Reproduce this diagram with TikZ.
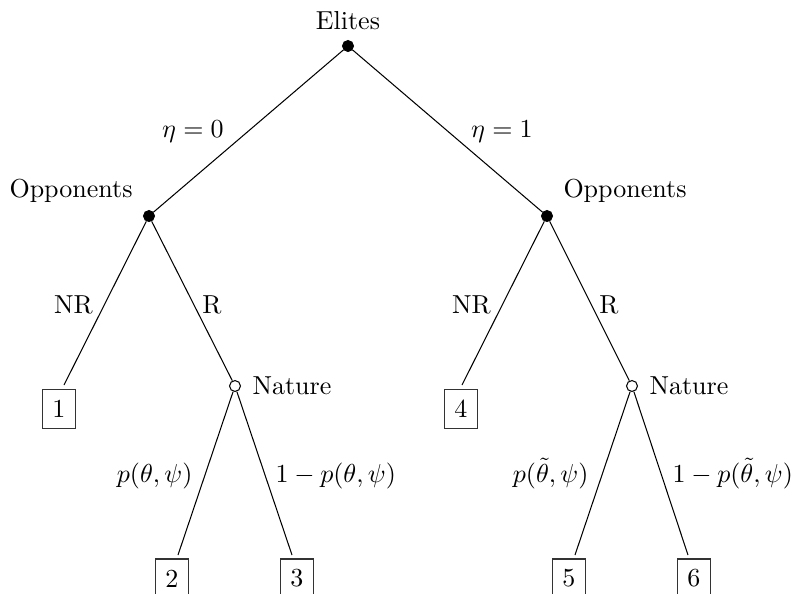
\documentclass[tikz,border=0pt]{standalone}
\begin{document}
\begin{tikzpicture}[x=0.38462pt,y=-0.38462pt,
  solid dot/.style={circle,fill=black,draw=black,inner sep=0pt,minimum size=4.2pt},
  hollow dot/.style={circle,fill=white,draw=black,inner sep=0pt,minimum size=4.2pt},
  payoff/.style={draw=black!80,inner sep=0pt,minimum width=12.9pt,minimum height=15pt},
  lbl/.style={inner sep=0pt},
  branch/.style={draw=black,line width=0.4pt}]
\useasboundingbox (0,0) rectangle (795,594);
\clip (0,0) rectangle (795,594);
% decision nodes
\node[solid dot] (E) at (348,46) {};
\node[solid dot] (OL) at (149,216) {};
\node[solid dot] (OR) at (547,216) {};
\node[hollow dot] (NL) at (235,386) {};
\node[hollow dot] (NRt) at (632,386) {};
% terminal boxes
\node[payoff] (b1) at (59,409) {1};
\node[payoff] (b4) at (461,409) {4};
\node[payoff] (b2) at (172,578.5) {2};
\node[payoff] (b3) at (297,578.5) {3};
\node[payoff] (b5) at (569,578.5) {5};
\node[payoff] (b6) at (694,578.5) {6};
% edge end points
\coordinate (e1) at (64,385);
\coordinate (e4) at (462,385);
\coordinate (e2) at (178,555);
\coordinate (e3) at (292,555);
\coordinate (e5) at (575,555);
\coordinate (e6) at (688,555);
% branches
\draw[branch] (E) -- (OL);
\draw[branch] (E) -- (OR);
\draw[branch] (OL) -- (e1);
\draw[branch] (OL) -- (NL);
\draw[branch] (OR) -- (e4);
\draw[branch] (OR) -- (NRt);
\draw[branch] (NL) -- (e2);
\draw[branch] (NL) -- (e3);
\draw[branch] (NRt) -- (e5);
\draw[branch] (NRt) -- (e6);
% player labels
\node[lbl,anchor=base] (tE) at (348,29) {Elites};
\node[lbl,anchor=base east] (tOL) at (133,197) {Opponents};
\node[lbl,anchor=base west] (tOR) at (563,197) {Opponents};
\node[lbl,anchor=base west] (tNL) at (252,394) {Nature};
\node[lbl,anchor=base west] (tNR) at (649,394) {Nature};
% edge labels
\node[lbl,anchor=base] (l0) at (193,137) {$\eta=0$};
\node[lbl,anchor=base] (l1) at (502,137) {$\eta=1$};
\node[lbl,anchor=base] (lNR1) at (73.5,313) {NR};
\node[lbl,anchor=base] (lR1) at (212,313) {R};
\node[lbl,anchor=base] (lNR2) at (471.5,313) {NR};
\node[lbl,anchor=base] (lR2) at (609,313) {R};
\node[lbl,anchor=base east] (lp1) at (193,482) {$p(\theta,\psi)$};
\node[lbl,anchor=base west] (lq1) at (275,482) {$1-p(\theta,\psi)$};
\node[lbl,anchor=base east] (lp2) at (589,482) {$p(\tilde\theta,\psi)$};
\node[lbl,anchor=base west] (lq2) at (672,482) {$1-p(\tilde\theta,\psi)$};
\end{tikzpicture}
\end{document}
